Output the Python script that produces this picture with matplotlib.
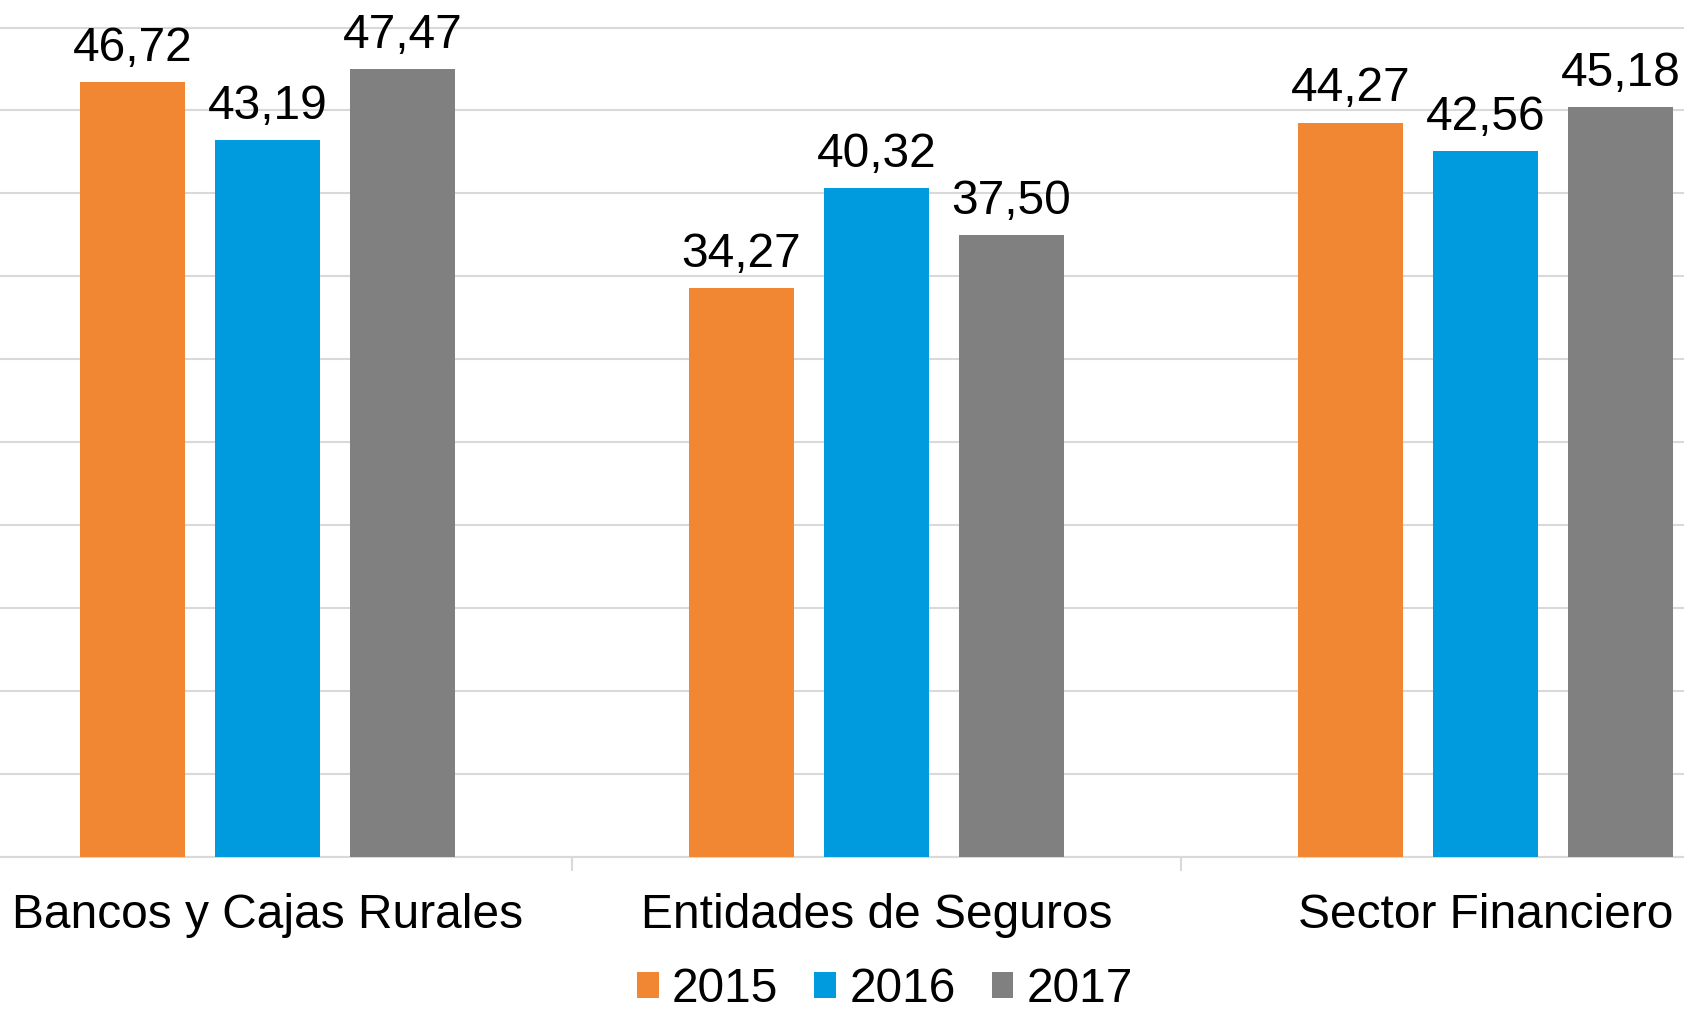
import numpy as np
import matplotlib.pyplot as plt

plt.rcParams['font.family'] = ['Liberation Sans', 'DejaVu Sans']

categories = ["Bancos y Cajas Rurales", "Entidades de Seguros", "Sector Financiero"]
years = ["2015", "2016", "2017"]
values_2015 = [46.72, 34.27, 44.27]
values_2016 = [43.19, 40.32, 42.56]
values_2017 = [47.47, 37.50, 45.18]
colors = ["#F28733", "#009BDE", "#808080"]

series = [values_2015, values_2016, values_2017]

fig = plt.figure(figsize=(16.84, 10.11), dpi=100)
ax = fig.add_axes([0, 0.1528, 1, 0.8472])

x = np.arange(len(categories))
step = 0.2217
width = 0.173
fs = 34.5

for i, (vals, year, col) in enumerate(zip(series, years, colors)):
    bars = ax.bar(x + (i - 1) * step, vals, width, color=col, label=year, zorder=3)
    ax.bar_label(
        bars,
        labels=[f"{v:.2f}".replace(".", ",") for v in vals],
        padding=8,
        fontsize=fs,
        color="black"
    )

ax.set_xlim(-0.439, 2.326)
ax.set_ylim(0, 51.66)

ax.set_yticks(np.arange(0, 55, 5))
ax.yaxis.grid(True, color="#D9D9D9", linewidth=1.5, zorder=0)
ax.tick_params(axis="y", left=False, labelleft=False)

ax.set_xticks(x)
ax.set_xticklabels(categories, fontsize=fs)
ax.tick_params(axis="x", which="major", length=0, pad=26)
ax.set_xticks([0.5, 1.5], minor=True)
ax.tick_params(axis="x", which="minor", length=10, width=1.5, color="#D9D9D9")

for side in ["top", "left", "right"]:
    ax.spines[side].set_visible(False)
ax.spines["bottom"].set_color("#D9D9D9")
ax.spines["bottom"].set_linewidth(1.5)

fig.legend(
    loc="center",
    bbox_to_anchor=(0.5255, 0.021),
    ncol=3,
    frameon=False,
    fontsize=fs,
    handlelength=0.45,
    handleheight=0.45,
    handletextpad=0.28,
    columnspacing=0.75,
    borderpad=0
)

fig.savefig("out.png", dpi=100)
